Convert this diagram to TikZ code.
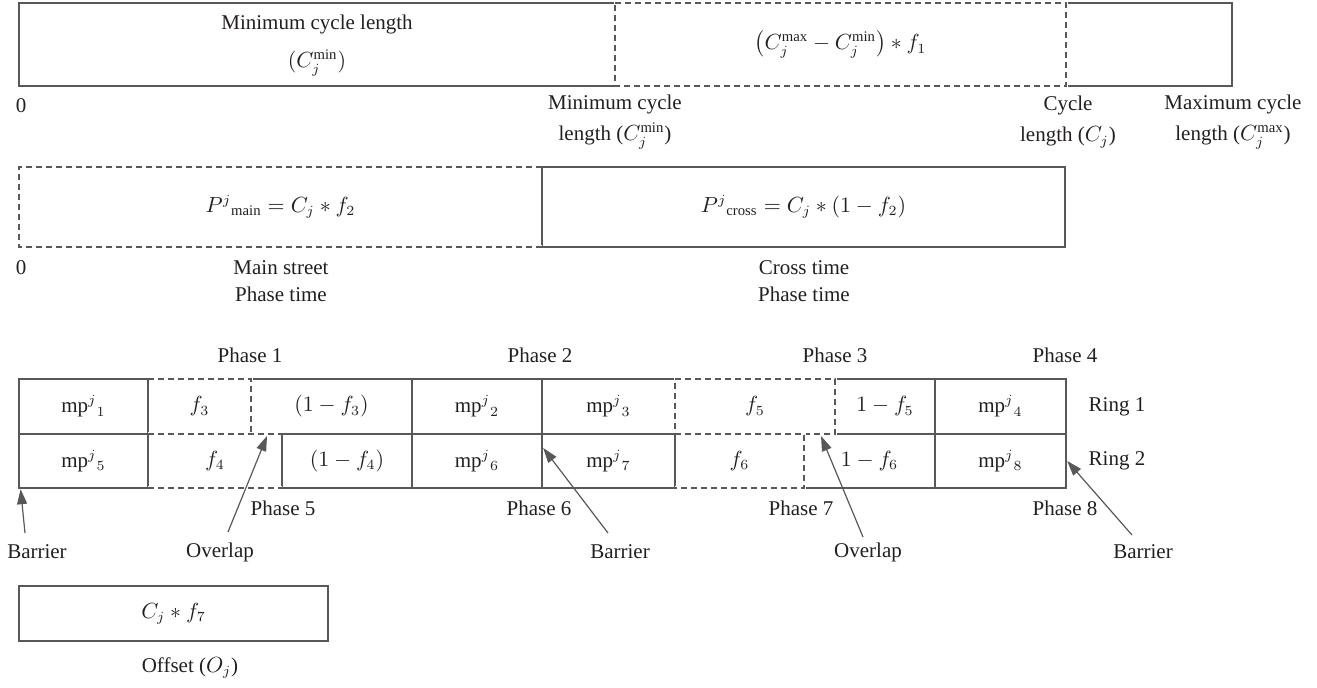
\documentclass[tikz,border=0pt]{standalone}
\usepackage{amsmath}
\usepackage{fontspec}
\setmainfont{Liberation Serif}
\usetikzlibrary{arrows.meta}
\definecolor{linec}{RGB}{88,88,90}
\definecolor{txtc}{RGB}{35,31,32}
\newcommand\mkcell[7]{%
  \pgfmathsetmacro\mkw{(#5-#3)*0.5}%
  \pgfmathsetmacro\mkh{(#6-#4)*0.5}%
  \pgfmathsetmacro\mkx{(#3+#5)/2}%
  \pgfmathsetmacro\mky{(#4+#6)/2}%
  \node[#2, minimum width=\mkw pt, minimum height=\mkh pt] (#1) at (\mkx,\mky) {#7};%
}
\begin{document}
\begin{tikzpicture}[x=0.5pt,y=-0.5pt,
  every node/.style={text=txtc, font=\fontsize{10.5}{13.5}\selectfont, inner sep=0pt},
  cellbox/.style={draw=linec, line width=0.75pt, inner sep=0pt, outer sep=0pt},
  dcellbox/.style={inner sep=0pt, outer sep=0pt},
  dl/.style={draw=linec, line width=0.75pt, dash pattern=on 3.2pt off 1.8pt,
    preaction={draw=white, line width=1.5pt, solid}},
  arr/.style={draw=linec, line width=0.6pt, -{Triangle[length=7.5pt,width=5pt]}},
  twoline/.style={align=center, font=\fontsize{10.5}{15.5}\selectfont},
  twolineb/.style={align=center, font=\fontsize{10.5}{13.5}\selectfont}
]
\useasboundingbox (0,0) rectangle (1317,688);

% ---------- top bar ----------
\mkcell{tl}{cellbox}{19}{3}{615}{86}{}
\mkcell{tm}{dcellbox}{615}{3}{1066}{86}{$\bigl(C_j^{\text{max}} - C_j^{\text{min}}\bigr) \ast f_1$}
\mkcell{tr}{cellbox}{1066}{3}{1232}{86}{}
\node (tlt1) at (317,24) {Minimum cycle length};
\node (tlt2) at (317,63) {$(C_j^{\text{min}})$};
\draw[dl] (tm.north west) -- (tm.north east) -- (tm.south east) -- (tm.south west) -- cycle;

\node (zeroa) at (21,106) {0};
\node[twoline] (lminc) at (615,122) {Minimum cycle\\length ($C_j^{\text{min}}$)};
\node[twoline] (lcyc) at (1068,122) {Cycle\\length ($C_j$)};
\node[twoline] (lmax) at (1233,122) {Maximum cycle\\length ($C_j^{\text{max}}$)};

% ---------- second bar ----------
\mkcell{sa}{dcellbox}{19}{167}{542}{247}{$P^{j}{}_{\text{main}} = C_j \ast f_2$}
\mkcell{sb}{cellbox}{542}{167}{1065}{247}{$P^{j}{}_{\text{cross}} = C_j \ast (1 - f_2)$}
\draw[dl] (sa.north east) -- (sa.north west) -- (sa.south west) -- (sa.south east);

\node (zerob) at (21,268) {0};
\node[twolineb] (lmain) at (281,281) {Main street\\Phase time};
\node[twolineb] (lcross) at (804,281) {Cross time\\Phase time};

% ---------- phase labels ----------
\node (ph1) at (250,355) {Phase 1};
\node (ph2) at (540,355) {Phase 2};
\node (ph3) at (835,355) {Phase 3};
\node (ph4) at (1065,355) {Phase 4};

% ---------- ring 1 ----------
\mkcell{ra}{cellbox}{19}{379}{148}{434}{mp$^{j}{}_{1}$}
\mkcell{rb}{dcellbox}{148}{379}{251}{434}{$f_3$}
\mkcell{rc}{cellbox}{251}{379}{412}{434}{$(1 - f_3)$}
\mkcell{rd}{cellbox}{412}{379}{542}{434}{mp$^{j}{}_{2}$}
\mkcell{re}{cellbox}{542}{379}{675}{434}{mp$^{j}{}_{3}$}
\mkcell{rf}{dcellbox}{675}{379}{835}{434}{$f_5$}
\mkcell{rg}{cellbox}{835}{379}{935}{434}{$1 - f_5$}
\mkcell{rh}{cellbox}{935}{379}{1066}{434}{mp$^{j}{}_{4}$}

% ---------- ring 2 ----------
\mkcell{qa}{cellbox}{19}{434}{148}{488}{mp$^{j}{}_{5}$}
\mkcell{qb}{dcellbox}{148}{434}{282}{488}{$f_4$}
\mkcell{qc}{cellbox}{282}{434}{412}{488}{$(1 - f_4)$}
\mkcell{qd}{cellbox}{412}{434}{542}{488}{mp$^{j}{}_{6}$}
\mkcell{qe}{cellbox}{542}{434}{675}{488}{mp$^{j}{}_{7}$}
\mkcell{qf}{dcellbox}{675}{434}{804}{488}{$f_6$}
\mkcell{qg}{cellbox}{804}{434}{935}{488}{$1 - f_6$}
\mkcell{qh}{cellbox}{935}{434}{1066}{488}{mp$^{j}{}_{8}$}

% dashed edges of the variable cells
\draw[dl] (rb.north west) -- (rb.north east) -- (rb.south east) -- (rb.south west);
\draw[dl] (rf.north west) -- (rf.north east) -- (rf.south east) -- (rf.south west) -- cycle;
\draw[dl] (qb.north west) -- (qb.north east);
\draw[dl] (qb.south west) -- (qb.south east);
\draw[dl] (qf.north west) -- (qf.north east) -- (qf.south east) -- (qf.south west);

\node (ring1) at (1117,407) {Ring 1};
\node (ring2) at (1117,461) {Ring 2};

\node (ph5) at (283,508) {Phase 5};
\node (ph6) at (539,508) {Phase 6};
\node (ph7) at (801,508) {Phase 7};
\node (ph8) at (1065,508) {Phase 8};

% ---------- barrier / overlap labels and arrows ----------
\node (bar1) at (37,552) {Barrier};
\node (ovl1) at (220,552) {Overlap};
\node (bar2) at (620,552) {Barrier};
\node (ovl2) at (868,552) {Overlap};
\node (bar3) at (1143,552) {Barrier};

\coordinate (b1tail) at (25,533);
\coordinate (o1tail) at (228,532);
\coordinate (o1tip) at (267,436);
\coordinate (b2tail) at (608,533);
\coordinate (o2tail) at (863,537);
\coordinate (o2tip) at (821,436);
\coordinate (b3tail) at (1132,535);

\draw[arr] (b1tail) -- ([xshift=0.8pt,yshift=-0.6pt]qa.south west);
\draw[arr] (o1tail) -- (o1tip);
\draw[arr] (b2tail) -- ([xshift=0.6pt,yshift=-7pt]qe.north west);
\draw[arr] (o2tail) -- (o2tip);
\draw[arr] (b3tail) -- ([xshift=0.6pt]qh.east);

% ---------- offset ----------
\mkcell{off}{cellbox}{19}{586}{328}{641}{$C_j \ast f_7$}
\node (offl) at (190,668) {Offset ($O_j$)};
\end{tikzpicture}
\end{document}
